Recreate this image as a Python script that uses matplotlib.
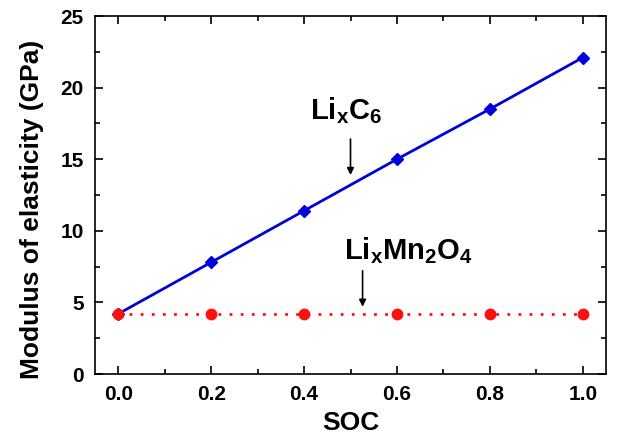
import matplotlib
matplotlib.use("Agg")
import matplotlib.pyplot as plt
from matplotlib.ticker import MultipleLocator, FormatStrFormatter

plt.rcParams["font.family"] = "Liberation Sans"
plt.rcParams["font.weight"] = "bold"
plt.rcParams["mathtext.fontset"] = "custom"
plt.rcParams["mathtext.rm"] = "Liberation Sans:bold"
plt.rcParams["mathtext.bf"] = "Liberation Sans:bold"
plt.rcParams["mathtext.it"] = "Liberation Sans:bold"

# data
soc = [0.0, 0.2, 0.4, 0.6, 0.8, 1.0]
lic6 = [4.2, 7.8, 11.4, 15.0, 18.5, 22.1]
limn2o4 = [4.2, 4.2, 4.2, 4.2, 4.2, 4.2]

fig = plt.figure(figsize=(6.22, 4.36), dpi=100)
ax = fig.add_axes([95 / 622, 1 - 374 / 436, 511 / 622, 358 / 436])

ax.plot(soc, lic6, color="#0000dd", lw=2, marker="D", ms=6)
ax.plot(soc, limn2o4, color="#ff1010", lw=2, ls=(0, (1, 3)), marker="o", ms=7.5)

ax.set_xlim(-0.05, 1.05)
ax.set_ylim(0, 25)
ax.xaxis.set_major_locator(MultipleLocator(0.2))
ax.xaxis.set_minor_locator(MultipleLocator(0.1))
ax.yaxis.set_major_locator(MultipleLocator(5))
ax.yaxis.set_minor_locator(MultipleLocator(2.5))
ax.xaxis.set_major_formatter(FormatStrFormatter("%.1f"))
ax.tick_params(which="both", direction="in", top=True, right=True, width=1.2)
ax.tick_params(which="major", length=6, labelsize=15, pad=8)
ax.tick_params(which="minor", length=3.5)
for s in ax.spines.values():
    s.set_linewidth(1.2)

ax.set_xlabel("SOC", fontsize=19, fontweight="bold", labelpad=5)
ax.set_ylabel("Modulus of elasticity (GPa)", fontsize=19, fontweight="bold")
ax.yaxis.set_label_coords(-0.10, 0.46)

ax.text(0.49, 18.4, r"$\mathrm{Li_xC_6}$", fontsize=21, ha="center", va="center")
ax.annotate("", xy=(0.5, 13.7), xytext=(0.5, 16.6),
            arrowprops=dict(arrowstyle="-|>", color="black", lw=1.2, mutation_scale=10))
ax.text(0.625, 8.6, r"$\mathrm{Li_xMn_2O_4}$", fontsize=21, ha="center", va="center")
ax.annotate("", xy=(0.526, 4.5), xytext=(0.526, 7.4),
            arrowprops=dict(arrowstyle="-|>", color="black", lw=1.2, mutation_scale=10))

fig.savefig("out.png", dpi=100)
